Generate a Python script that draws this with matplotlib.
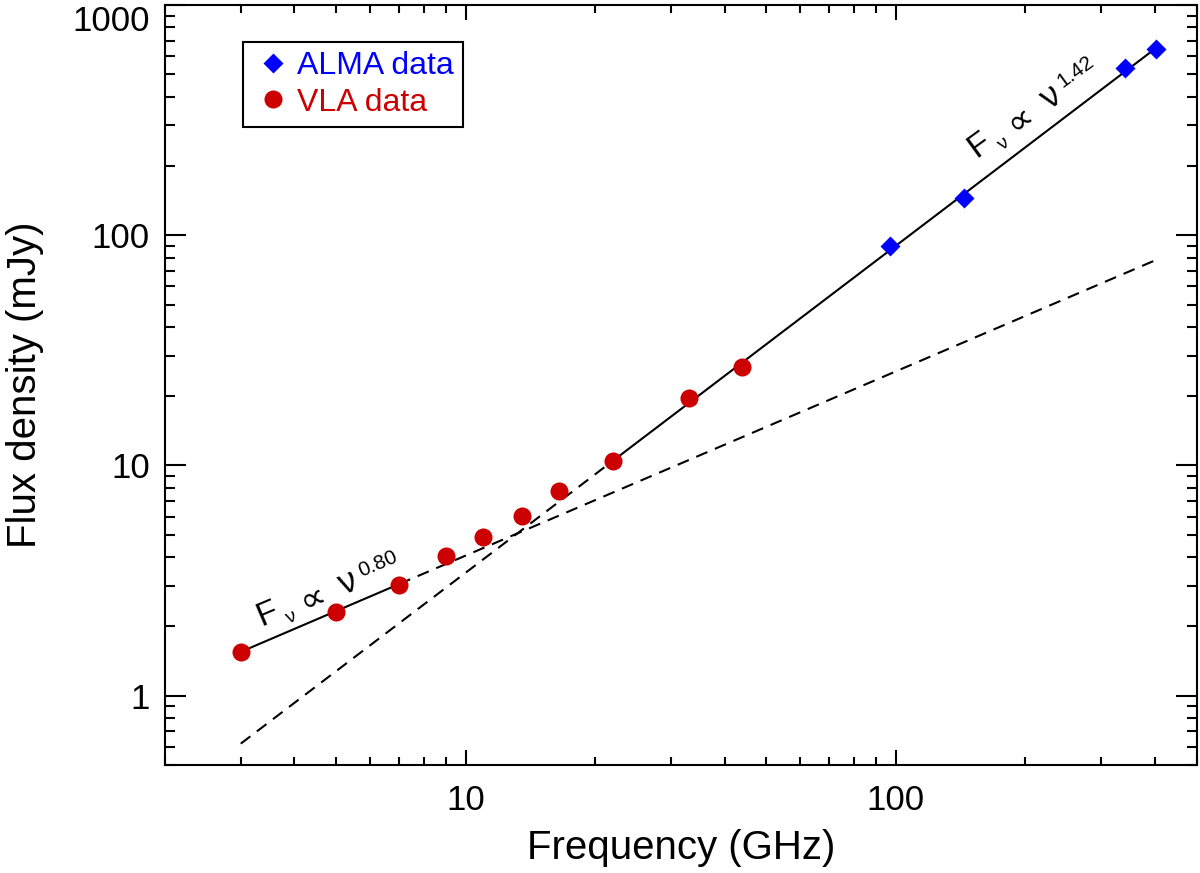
import numpy as np
import matplotlib
matplotlib.use("Agg")
import matplotlib.pyplot as plt
from matplotlib.transforms import offset_copy
from matplotlib.ticker import FixedLocator, LogLocator, NullFormatter, FuncFormatter

plt.rcParams["font.family"] = ["Liberation Sans", "DejaVu Sans"]

# data
vla_freq = [3.0, 5.0, 7.0, 9.0, 11.0, 13.5, 16.5, 22.0, 33.0, 44.0]
vla_flux = [1.55, 2.32, 3.04, 4.06, 4.91, 6.06, 7.71, 10.5, 19.6, 26.7]
alma_freq = [97.0, 144.0, 341.0, 402.0]
alma_flux = [89.6, 144.5, 531.0, 642.0]

# power-law fits: F = ref * (nu / nu_ref) ** index
low_index, low_ref, low_nu_ref = 0.80, 1.55, 3.0
high_index, high_ref, high_nu_ref = 1.42, 90.0, 100.0
low_solid = [3.0, 7.0]
low_dashed = [7.0, 400.0]
high_dashed = [3.0, 22.0]
high_solid = [22.0, 400.0]

x_ticks = [10, 100]
y_ticks = [1, 10, 100, 1000]


def powlaw(nu, ref, nu_ref, index):
    nu = np.asarray(nu)
    return ref * (nu / nu_ref) ** index


def slope_label(ax, x, y, angle, index_txt):
    """F_nu ∝ nu^index written piece by piece along a rotated baseline"""
    # (text, size, along, up) offsets in points
    pieces = [("F", 24, 0, 0),
              ("ν", 14, 18.5, -6.7),
              ("∝", 26, 33, -3.5),
              ("ν", 25, 63.5, -2.9),
              (index_txt, 15, 80, 4.3)]
    c, s = np.cos(np.radians(angle)), np.sin(np.radians(angle))
    for txt, size, a, u in pieces:
        tr = offset_copy(ax.transData, fig=ax.figure, x=a * c - u * s,
                         y=a * s + u * c, units="points")
        ax.text(x, y, txt, fontsize=size, transform=tr, rotation=angle,
                rotation_mode="anchor", ha="left", va="baseline")


fig = plt.figure(figsize=(12, 8.73), dpi=100)
ax = fig.add_axes([0.1375, 0.1237, 0.8596, 0.8706])

dash = (0, (5.8, 3.9))
ax.plot(low_solid, powlaw(low_solid, low_ref, low_nu_ref, low_index), color="black", lw=1.5)
ax.plot(low_dashed, powlaw(low_dashed, low_ref, low_nu_ref, low_index), color="black", lw=1.5, ls=dash)
ax.plot(high_solid, powlaw(high_solid, high_ref, high_nu_ref, high_index), color="black", lw=1.5)
ax.plot(high_dashed, powlaw(high_dashed, high_ref, high_nu_ref, high_index), color="black", lw=1.5, ls=dash)

ax.plot(alma_freq, alma_flux, ls="none", marker="D", ms=10, color="#0000FF",
        mec="none", label="ALMA data", zorder=3)
ax.plot(vla_freq, vla_flux, ls="none", marker="o", ms=13, color="#CC0000",
        mec="none", label="VLA data", zorder=3)

ax.set_xscale("log")
ax.set_yscale("log")
ax.set_xlim(2, 500)
ax.set_ylim(0.5, 1000)

ax.xaxis.set_major_locator(FixedLocator(x_ticks))
ax.yaxis.set_major_locator(FixedLocator(y_ticks))
for axis in (ax.xaxis, ax.yaxis):
    axis.set_minor_locator(LogLocator(base=10, subs=np.arange(2, 10)))
    axis.set_minor_formatter(NullFormatter())
    axis.set_major_formatter(FuncFormatter(lambda v, p: f"{v:g}"))

ax.tick_params(which="both", direction="in", top=True, right=True, width=1.5)
ax.tick_params(which="major", labelsize=25)
ax.tick_params(axis="x", which="major", length=11, pad=14)
ax.tick_params(axis="x", which="minor", length=5.5)
ax.tick_params(axis="y", which="major", length=15, pad=11)
ax.tick_params(axis="y", which="minor", length=7.5)
for s in ax.spines.values():
    s.set_linewidth(1.5)

ax.set_xlabel("Frequency (GHz)", fontsize=29, labelpad=8)
ax.set_ylabel("Flux density (mJy)", fontsize=29)
ax.yaxis.set_label_coords(-0.117, 0.5)

# top label sits below the frame corner
fig.canvas.draw()
for lbl in ax.get_yticklabels():
    if lbl.get_text() == "1000":
        lbl.set_va("top")

slope_label(ax, 3.34, 2.015, 23, "0.80")
slope_label(ax, 153.6, 215.6, 36, "1.42")

leg = ax.legend(loc="upper left", bbox_to_anchor=(0.0752, 0.9517), fontsize=23,
                frameon=True, fancybox=False, edgecolor="black", framealpha=1,
                handlelength=1.3, handletextpad=0.1, borderpad=0.3,
                labelspacing=0.2, borderaxespad=0)
leg.get_frame().set_linewidth(1.5)
for txt, c in zip(leg.get_texts(), ["#0000FF", "#CC0000"]):
    txt.set_color(c)

fig.savefig("out.png", dpi=100)
